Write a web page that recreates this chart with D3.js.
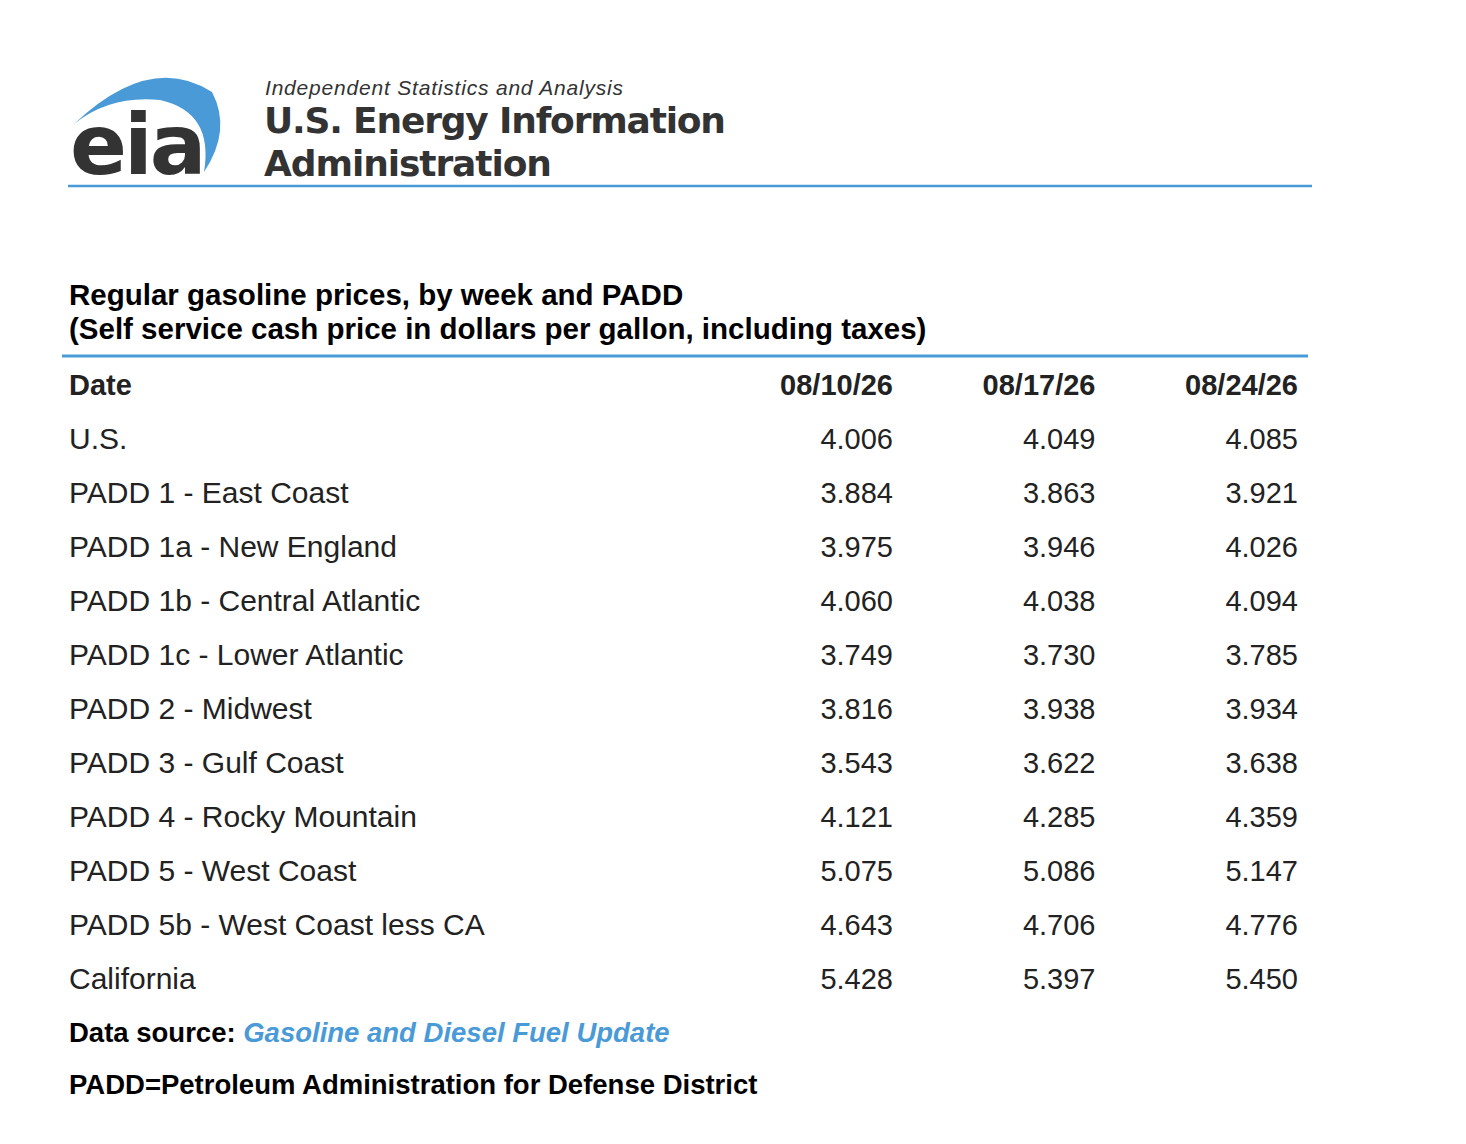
<!DOCTYPE html>
<html>
<head>
<meta charset="utf-8">
<script src="https://cdn.jsdelivr.net/npm/d3@7"></script>
<style>body{margin:0;background:#fff;}</style>
</head>
<body>
<div id="chart"></div>
<script>
const dates = ["08/10/26", "08/17/26", "08/24/26"];
const regions = ["U.S.", "PADD 1 - East Coast", "PADD 1a - New England", "PADD 1b - Central Atlantic",
    "PADD 1c - Lower Atlantic", "PADD 2 - Midwest", "PADD 3 - Gulf Coast", "PADD 4 - Rocky Mountain",
    "PADD 5 - West Coast", "PADD 5b - West Coast less CA", "California"];
const week1 = [4.006, 3.884, 3.975, 4.060, 3.749, 3.816, 3.543, 4.121, 5.075, 4.643, 5.428];
const week2 = [4.049, 3.863, 3.946, 4.038, 3.730, 3.938, 3.622, 4.285, 5.086, 4.706, 5.397];
const week3 = [4.085, 3.921, 4.026, 4.094, 3.785, 3.934, 3.638, 4.359, 5.147, 4.776, 5.450];

const w = 1466, h = 1144;
const blue = "#4a9ad8";
const font = "Liberation Sans, Arial, sans-serif";

const svg = d3.select("#chart").append("svg").attr("width", w).attr("height", h)
    .style("font-family", font);

// logo
svg.append("path")
    .attr("d", "M74,124 Q150,52 212,92 Q232,130 204,172 Q214,112 160,100 Q110,95 74,124 Z")
    .attr("fill", blue);
svg.append("text").attr("x", 70).attr("y", 174).attr("font-size", 84).attr("font-weight", "bold")
    .attr("fill", "#333").attr("font-family", "DejaVu Sans, sans-serif").attr("letter-spacing", -3).text("eia");
svg.append("text").attr("x", 265).attr("y", 95).attr("font-size", 21).attr("font-style", "italic")
    .attr("fill", "#333").attr("textLength", 358).text("Independent Statistics and Analysis");
svg.append("text").attr("x", 264).attr("y", 133).attr("font-size", 36).attr("font-weight", "bold")
    .attr("fill", "#333").attr("font-family", "DejaVu Sans, sans-serif").attr("textLength", 462).text("U.S. Energy Information");
svg.append("text").attr("x", 264).attr("y", 176).attr("font-size", 36).attr("font-weight", "bold")
    .attr("fill", "#333").attr("font-family", "DejaVu Sans, sans-serif").attr("textLength", 288).text("Administration");
svg.append("line").attr("x1", 68).attr("x2", 1312).attr("y1", 186).attr("y2", 186)
    .attr("stroke", blue).attr("stroke-width", 2.5);

// title
svg.append("text").attr("x", 69).attr("y", 305).attr("font-size", 29.5).attr("font-weight", "bold")
    .text("Regular gasoline prices, by week and PADD");
svg.append("text").attr("x", 69).attr("y", 339).attr("font-size", 29.5).attr("font-weight", "bold")
    .text("(Self service cash price in dollars per gallon, including taxes)");
svg.append("line").attr("x1", 62).attr("x2", 1308).attr("y1", 356).attr("y2", 356)
    .attr("stroke", blue).attr("stroke-width", 3);

// table
const x = d3.scalePoint().domain(dates).range([893, 1298]);
const y = d3.scaleBand().domain(["Date"].concat(regions)).range([359, 1007]);
const base = r => y(r) + y.bandwidth() / 2 + 9;

svg.append("text").attr("x", 69).attr("y", base("Date")).attr("font-size", 29)
    .attr("font-weight", "bold").attr("fill", "#222").text("Date");
svg.selectAll("text.hdr").data(dates).enter().append("text").attr("class", "hdr")
    .attr("x", d => x(d)).attr("y", base("Date")).attr("text-anchor", "end")
    .attr("font-size", 29).attr("font-weight", "bold").attr("fill", "#222").text(d => d);

const rows = svg.selectAll("g.row").data(regions).enter().append("g").attr("class", "row")
    .attr("transform", d => `translate(0,${base(d)})`);
rows.append("text").attr("x", 69).attr("font-size", 30).attr("fill", "#222").text(d => d);
[week1, week2, week3].forEach((vals, j) => {
    rows.append("text").attr("x", x(dates[j])).attr("text-anchor", "end")
        .attr("font-size", 29).attr("fill", "#222").text((d, i) => vals[i].toFixed(3));
});

// footer
const src = svg.append("text").attr("x", 69).attr("y", 1042).attr("font-size", 27.5).attr("font-weight", "bold");
src.append("tspan").text("Data source: ");
src.append("tspan").attr("fill", blue).attr("font-style", "italic").text("Gasoline and Diesel Fuel Update");
svg.append("text").attr("x", 69).attr("y", 1094).attr("font-size", 27.5).attr("font-weight", "bold")
    .text("PADD=Petroleum Administration for Defense District");
</script>
</body>
</html>
